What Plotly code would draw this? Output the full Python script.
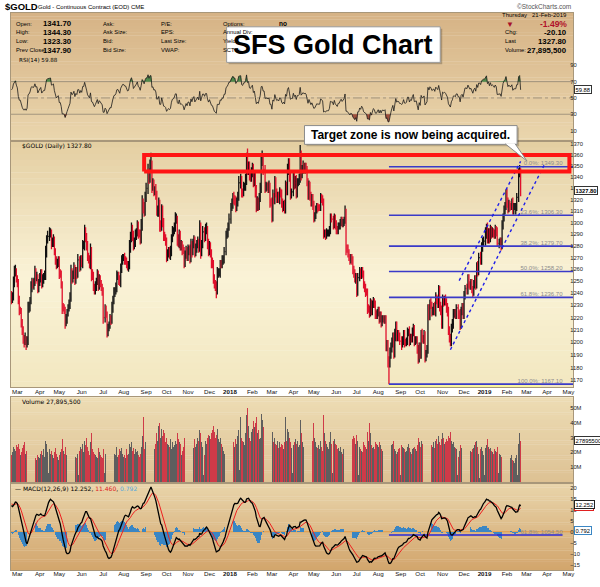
import numpy as np
import pandas as pd
import plotly.graph_objects as go

# ---------------- data (read / estimated from the reference) ----------------
# closes before the visible window, only used to warm up RSI / MACD
warmup_close = [1214, 1213, 1187, 1187, 1178, 1190, 1188, 1173,
                1170, 1177, 1170, 1170, 1175, 1172, 1162, 1159, 1159, 1142, 1130, 1137, 1139, 1133, 1131, 1130, 1133, 1133, 1139, 1141, 1158, 1152,
                1152, 1162, 1165, 1181, 1173, 1184, 1186, 1196, 1197, 1197, 1203, 1216, 1212, 1202, 1210, 1217, 1212, 1199, 1189, 1191, 1196, 1212,
                1209, 1221, 1220, 1233, 1236, 1241, 1235, 1235, 1226, 1229, 1233, 1242, 1239, 1239]

close_2017 = [1234, 1237, 1249, 1257, 1259, 1253,
              1249, 1234, 1226, 1226, 1216, 1209, 1203, 1201, 1203, 1199, 1202, 1227, 1229, 1234, 1245, 1249, 1247, 1249, 1258, 1253, 1254, 1244, 1249,
              1253, 1257, 1248, 1252, 1254, 1254, 1274, 1285, 1288, 1288, 1290, 1291, 1282, 1283, 1285, 1276, 1267, 1264, 1266, 1268,
              1256, 1256, 1248, 1228, 1228, 1227, 1216, 1219, 1224, 1228, 1231, 1236, 1258, 1253, 1255, 1261, 1251, 1258, 1256, 1268, 1268, 1262, 1268,
              1265, 1280, 1280, 1293, 1288, 1280, 1271, 1268, 1265, 1276, 1256, 1255, 1246, 1242, 1246, 1250, 1256, 1246, 1252, 1249, 1245, 1242,
              1220, 1220, 1227, 1223, 1209, 1212, 1214, 1219, 1218, 1228, 1234, 1241, 1242, 1245, 1254, 1255, 1251, 1249, 1260, 1268, 1270,
              1270, 1268, 1268, 1264, 1262, 1263, 1279, 1287, 1294, 1290, 1280, 1283, 1289, 1291, 1297, 1291, 1290, 1286, 1297, 1315, 1313, 1309, 1322,
              1330, 1330, 1344, 1339, 1350, 1351, 1332, 1334, 1328, 1329, 1325, 1310, 1311, 1316, 1297, 1297, 1311, 1301, 1288, 1287, 1284,
              1271, 1273, 1276, 1273, 1275, 1286, 1292, 1293, 1296, 1303, 1303, 1286, 1283, 1290, 1280, 1281, 1277, 1276, 1266, 1272, 1276, 1271,
              1277, 1277, 1269, 1281, 1275, 1282, 1285, 1274, 1278, 1281, 1283, 1278, 1296, 1275, 1281, 1292, 1292, 1287, 1294, 1294, 1282, 1275,
              1280, 1274, 1266, 1265, 1253, 1248, 1246, 1242, 1257, 1257, 1257, 1265, 1264, 1268, 1268, 1275, 1275, 1289, 1291, 1296, 1303]
close_2018 = [1303, 1313, 1316, 1322, 1320, 1320, 1314, 1318, 1322, 1335, 1335, 1337, 1327, 1326, 1332, 1332, 1338, 1357, 1347, 1350, 1341, 1340, 1345,
              1348, 1337, 1340, 1329, 1315, 1318, 1315, 1322, 1330, 1355, 1356, 1347, 1347, 1331, 1332, 1332, 1330, 1332, 1318, 1318,
              1305, 1323, 1320, 1336, 1327, 1321, 1323, 1320, 1327, 1326, 1317, 1313, 1316, 1312, 1332, 1328, 1347, 1353, 1341, 1325, 1327, 1327,
              1341, 1333, 1337, 1326, 1336, 1336, 1339, 1361, 1342, 1347, 1350, 1347, 1349, 1347, 1336, 1324, 1333, 1323, 1318, 1322, 1315,
              1305, 1306, 1311, 1314, 1313, 1313, 1313, 1322, 1320, 1318, 1290, 1291, 1289, 1291, 1291, 1291, 1294, 1304, 1303, 1303, 1298, 1304, 1298,
              1294, 1293, 1297, 1297, 1300, 1302, 1299, 1300, 1302, 1308, 1278, 1278, 1274, 1270, 1268, 1270, 1268, 1260, 1257, 1252, 1254,
              1242, 1253, 1253, 1258, 1255, 1259, 1256, 1247, 1245, 1241, 1241, 1227, 1227, 1224, 1232, 1225, 1231, 1233, 1231, 1223, 1222, 1224,
              1226, 1219, 1222, 1216, 1219, 1219, 1218, 1219, 1198, 1199, 1185, 1184, 1191, 1195, 1200, 1204, 1191, 1205, 1212, 1204, 1206, 1205, 1201,
              1201, 1199, 1201, 1206, 1200, 1200, 1201, 1208, 1208, 1201, 1204, 1203, 1208, 1211, 1201, 1202, 1202, 1195, 1187, 1196,
              1191, 1207, 1203, 1203, 1206, 1189, 1191, 1194, 1227, 1222, 1232, 1230, 1225, 1226, 1229, 1225, 1236, 1234, 1232, 1243, 1230, 1226, 1215,
              1235, 1233, 1235, 1233, 1228, 1225, 1210, 1204, 1201, 1211, 1215, 1223, 1224, 1222, 1228, 1228, 1223, 1223, 1214, 1226, 1228, 1223,
              1238, 1244, 1244, 1243, 1252, 1247, 1246, 1248, 1243, 1241, 1248, 1251, 1247, 1262, 1258, 1270, 1270, 1268, 1279, 1283, 1284]
close_2019 = [1284, 1291, 1295, 1286, 1291, 1286, 1294, 1290, 1292, 1291, 1289, 1294, 1292, 1282, 1282, 1283, 1283, 1280, 1298, 1304, 1311, 1315, 1325,
              1318, 1312, 1316, 1314, 1314, 1318, 1311, 1314, 1314, 1314, 1322, 1322, 1344, 1348, 1328]

up_wick_2017 = [3, 4, 5, 6, 5, 2,
                2, 3, 4, 3, 2, 3, 4, 3, 5, 2, 3, 6, 4, 3, 5, 4, 3, 4, 5, 3, 4, 2, 3,
                4, 3, 3, 4, 3, 5, 6, 4, 5, 0, 6, 4, 3, 4, 5, 3, 2, 4, 3, 3,
                3, 4, 3, 2, 4, 3, 2, 4, 3, 3, 4, 5, 6, 3, 4, 5, 3, 4, 4, 5, 0, 3, 4,
                4, 5, 4, 5, 3, 3, 4, 3, 4, 6, 3, 4, 3, 2, 4, 3, 4, 3, 4, 3, 2, 3,
                3, 0, 4, 3, 2, 3, 3, 4, 3, 5, 4, 4, 3, 4, 5, 3, 3, 4, 5, 4, 3,
                3, 4, 3, 2, 3, 4, 6, 5, 6, 4, 3, 4, 5, 4, 5, 4, 3, 4, 6, 9, 6, 5, 5,
                5, 0, 8, 4, 6, 11, 4, 5, 4, 3, 5, 3, 4, 6, 4, 5, 5, 4, 3, 4, 3,
                3, 4, 3, 3, 5, 4, 5, 3, 4, 6, 5, 3, 4, 4, 3, 4, 3, 4, 3, 4, 4, 3,
                4, 3, 4, 5, 3, 4, 4, 3, 4, 4, 5, 3, 6, 4, 4, 5, 0, 4, 5, 6, 3, 4,
                4, 3, 3, 4, 3, 3, 3, 4, 5, 4, 4, 3, 3, 4, 4, 4, 0, 4, 4, 4, 5]
up_wick_2018 = [0, 4, 5, 4, 5, 4, 3, 4, 5, 6, 0, 6, 4, 3, 4, 3, 5, 5, 9, 4, 4, 3, 4,
                5, 4, 4, 5, 4, 5, 4, 4, 5, 5, 8, 4, 0, 4, 4, 3, 4, 5, 3, 3,
                4, 6, 3, 5, 4, 3, 4, 4, 4, 3, 3, 4, 3, 4, 5, 4, 5, 4, 4, 3, 3, 0,
                4, 3, 4, 5, 3, 3, 4, 8, 3, 4, 5, 3, 4, 4, 3, 3, 4, 3, 4, 3, 3,
                4, 3, 4, 3, 3, 3, 3, 4, 3, 4, 3, 3, 3, 4, 3, 3, 3, 4, 4, 0, 3, 4, 3,
                4, 3, 3, 3, 3, 3, 3, 3, 3, 7, 4, 3, 3, 3, 3, 3, 3, 3, 3, 3, 3,
                3, 4, 0, 4, 3, 3, 3, 3, 3, 3, 3, 3, 4, 3, 4, 3, 3, 4, 3, 3, 3, 3,
                3, 3, 3, 3, 3, 3, 3, 3, 3, 3, 3, 4, 5, 5, 4, 4, 4, 6, 5, 5, 4, 4, 3,
                0, 4, 4, 4, 4, 3, 3, 4, 3, 5, 3, 3, 4, 4, 3, 3, 3, 3, 3, 4,
                4, 3, 4, 3, 4, 3, 3, 4, 4, 4, 3, 4, 3, 3, 3, 4, 5, 3, 4, 4, 3, 3, 4,
                4, 3, 3, 4, 3, 4, 4, 3, 3, 4, 4, 4, 3, 3, 3, 0, 3, 3, 4, 3, 4, 4,
                4, 3, 0, 4, 4, 4, 3, 4, 4, 3, 3, 4, 4, 4, 5, 4, 0, 5, 4, 4, 4]
up_wick_2019 = [0, 5, 4, 5, 4, 4, 4, 3, 4, 3, 3, 4, 3, 4, 0, 3, 4, 4, 4, 4, 4, 3, 4,
                5, 4, 4, 3, 3, 3, 4, 3, 3, 3, 4, 0, 4, 3, 0]

down_wick_2017 = [3, 2, 3, 4, 3, 4,
                  4, 3, 4, 3, 4, 3, 4, 5, 3, 5, 3, 4, 3, 4, 3, 4, 3, 4, 3, 5, 3, 4, 3,
                  3, 4, 4, 3, 4, 3, 3, 4, 3, 0, 4, 3, 5, 3, 4, 4, 3, 4, 3, 4,
                  4, 3, 4, 5, 3, 4, 5, 3, 4, 3, 3, 4, 3, 5, 4, 3, 4, 3, 4, 3, 0, 4, 3,
                  3, 4, 3, 4, 5, 4, 4, 3, 4, 5, 6, 4, 4, 3, 3, 4, 3, 4, 3, 4, 3, 4,
                  5, 0, 4, 3, 5, 4, 3, 3, 4, 3, 4, 3, 4, 3, 4, 3, 4, 3, 4, 3, 4,
                  3, 4, 4, 3, 3, 4, 3, 5, 4, 6, 4, 3, 4, 4, 3, 5, 3, 5, 4, 4, 5, 4, 3,
                  4, 0, 5, 5, 4, 4, 6, 4, 5, 4, 5, 4, 5, 6, 5, 5, 4, 5, 4, 3, 4,
                  5, 4, 3, 4, 5, 4, 3, 4, 3, 4, 4, 6, 4, 5, 4, 4, 5, 3, 5, 4, 3, 4,
                  4, 5, 4, 3, 5, 3, 4, 4, 3, 4, 3, 4, 3, 6, 4, 3, 0, 4, 3, 4, 5, 4,
                  3, 4, 5, 4, 5, 4, 4, 6, 3, 4, 3, 4, 3, 3, 4, 3, 0, 3, 3, 4, 3]
down_wick_2018 = [0, 4, 3, 4, 4, 5, 5, 4, 4, 3, 0, 5, 5, 4, 3, 4, 4, 5, 5, 5, 4, 4, 4,
                  5, 6, 5, 7, 6, 5, 5, 4, 4, 4, 5, 5, 0, 5, 4, 4, 4, 4, 5, 4,
                  5, 4, 4, 4, 5, 4, 4, 3, 4, 4, 4, 4, 3, 4, 4, 4, 4, 5, 5, 5, 4, 0,
                  4, 4, 3, 5, 4, 4, 3, 4, 5, 3, 4, 3, 4, 3, 4, 4, 4, 4, 4, 4, 4,
                  5, 4, 3, 3, 4, 3, 3, 3, 3, 3, 4, 3, 4, 3, 3, 3, 3, 4, 3, 0, 4, 3, 4,
                  4, 3, 3, 3, 3, 3, 3, 3, 3, 3, 6, 4, 4, 3, 4, 3, 4, 4, 4, 3, 4,
                  5, 4, 0, 3, 3, 3, 3, 3, 4, 4, 3, 4, 3, 4, 3, 3, 3, 3, 3, 4, 3, 3,
                  3, 4, 3, 4, 3, 3, 3, 3, 5, 5, 5, 17, 4, 4, 3, 4, 4, 3, 4, 3, 3, 4, 3,
                  0, 5, 3, 3, 4, 3, 3, 3, 3, 4, 3, 3, 3, 3, 4, 3, 3, 4, 4, 3,
                  4, 4, 3, 4, 4, 5, 4, 3, 3, 4, 4, 3, 4, 3, 4, 3, 4, 3, 4, 4, 5, 4, 4,
                  4, 4, 3, 3, 4, 4, 4, 4, 4, 4, 3, 4, 3, 3, 3, 0, 4, 4, 4, 3, 4, 4,
                  4, 3, 0, 4, 4, 3, 3, 3, 3, 4, 3, 4, 4, 3, 4, 3, 0, 4, 4, 4, 4]
down_wick_2019 = [0, 4, 5, 4, 4, 4, 3, 4, 3, 4, 3, 3, 4, 3, 0, 4, 3, 4, 3, 4, 3, 4, 4,
                  5, 4, 3, 4, 3, 3, 4, 4, 3, 7, 4, 0, 4, 4, 5]

# volume in millions of contracts
volume_2017 = [18, 20, 24, 22, 21, 25,
               24, 26, 22, 18, 20, 23, 25, 27, 19, 21, 30, 34, 22, 19, 24, 21, 18, 17, 20, 16, 15, 18, 17,
               16, 19, 21, 18, 22, 17, 28, 26, 20, 6, 22, 19, 21, 18, 16, 20, 23, 19, 17, 15,
               18, 20, 22, 29, 21, 19, 24, 18, 17, 16, 15, 19, 30, 25, 22, 18, 20, 17, 16, 19, 5, 21, 24,
               22, 26, 20, 28, 25, 30, 24, 21, 18, 27, 33, 22, 20, 19, 18, 17, 16, 23, 20, 18, 17, 16,
               22, 6, 19, 18, 28, 20, 17, 19, 18, 23, 17, 21, 19, 18, 24, 17, 18, 22, 21, 23, 19,
               17, 18, 16, 22, 18, 19, 26, 24, 27, 21, 23, 19, 22, 20, 21, 18, 17, 19, 24, 31, 44, 22, 27,
               34, 8, 54, 30, 35, 40, 36, 25, 27, 22, 26, 33, 28, 38, 40, 30, 36, 31, 35, 33, 27,
               30, 26, 25, 24, 29, 22, 27, 24, 25, 28, 26, 33, 29, 27, 26, 18, 21, 24, 30, 27, 22, 25,
               26, 24, 28, 27, 22, 25, 23, 29, 24, 26, 30, 28, 35, 33, 27, 24, 5, 18, 28, 26, 30, 32,
               31, 29, 33, 35, 38, 34, 30, 32, 36, 29, 27, 30, 26, 24, 21, 19, 4, 18, 20, 22, 24]
volume_2018 = [6, 22, 26, 30, 27, 24, 29, 26, 31, 35, 8, 44, 30, 28, 27, 25, 33, 45, 50, 38, 30, 28, 34,
               36, 41, 37, 40, 44, 33, 35, 29, 30, 46, 42, 37, 8, 36, 31, 27, 26, 29, 33, 35,
               38, 34, 27, 30, 26, 25, 28, 23, 27, 24, 26, 25, 22, 27, 44, 28, 36, 34, 30, 27, 23, 6,
               25, 27, 29, 26, 28, 24, 25, 42, 33, 27, 24, 22, 26, 28, 30, 32, 27, 29, 25, 24, 28,
               40, 30, 27, 24, 23, 25, 22, 28, 24, 21, 45, 33, 28, 26, 24, 22, 27, 34, 26, 6, 28, 29, 26,
               25, 22, 23, 21, 24, 20, 19, 22, 30, 36, 49, 30, 28, 27, 25, 24, 23, 29, 31, 30, 26,
               32, 28, 5, 24, 22, 21, 20, 27, 25, 24, 22, 34, 28, 40, 33, 25, 23, 24, 22, 27, 26, 25,
               24, 27, 25, 22, 21, 20, 23, 24, 34, 31, 38, 44, 30, 24, 25, 26, 28, 22, 21, 19, 20, 22, 23,
               5, 25, 24, 23, 22, 20, 21, 24, 26, 23, 20, 19, 22, 23, 24, 22, 21, 25, 30, 27,
               24, 28, 26, 25, 27, 24, 22, 23, 51, 34, 30, 26, 25, 24, 27, 23, 28, 29, 26, 31, 27, 25, 29,
               33, 30, 26, 27, 29, 28, 31, 30, 34, 28, 26, 27, 24, 23, 22, 5, 17, 21, 25, 23, 26, 22,
               27, 29, 14, 26, 28, 23, 22, 21, 20, 22, 23, 25, 27, 28, 24, 19, 3, 22, 24, 21, 18]
volume_2019 = [5, 23, 25, 29, 24, 22, 23, 21, 20, 19, 22, 21, 20, 24, 6, 19, 18, 17, 26, 21, 24, 28, 30,
               27, 20, 17, 19, 16, 18, 15, 14, 13, 16, 18, 5, 26, 33, 27.9]

month_names = ["Jan", "Feb", "Mar", "Apr", "May", "Jun", "Jul", "Aug", "Sep", "Oct", "Nov", "Dec"]
price_ticks = [1170, 1180, 1190, 1200, 1210, 1220, 1230, 1240, 1250, 1260, 1270, 1280, 1290, 1300,
               1310, 1320, 1330, 1340, 1350, 1360, 1370]
rsi_ticks = [10, 30, 50, 70, 90]
volume_ticks = [10, 20, 30, 40, 50]
volume_tick_text = ["10M", "20M", "30M", "40M", "50M"]
macd_ticks = [-15, -10, -5, 0, 5, 10, 15, 20]

fib_levels = [1349.30, 1306.30, 1279.70, 1258.20, 1236.70, 1167.10]
fib_labels = ["0.0%: 1349.30", "23.6%: 1306.30", "38.2%: 1279.70", "50.0%: 1258.20", "61.8%: 1236.70", "100.0%: 1167.10"]
fib_start_date = "2018-08-16"
fib_label_date = "2019-04-23"
zone_dates = ["2017-08-30", "2019-05-02"]
zone_prices = [1345.0, 1360.0]
channel_lower_dates = ["2018-11-13", "2019-03-27"]
channel_lower_prices = [1194.2, 1350.6]
channel_upper_dates = ["2018-11-26", "2019-02-21"]
channel_upper_prices = [1250.6, 1354.2]
macd_fib_value = -1.5
macd_fib_label = "61.8%: 1054.50"

# ---------------- series ----------------
close = np.array(close_2017 + close_2018 + close_2019, dtype=float)
up_wick = np.array(up_wick_2017 + up_wick_2018 + up_wick_2019, dtype=float)
down_wick = np.array(down_wick_2017 + down_wick_2018 + down_wick_2019, dtype=float)
volume = np.array(volume_2017 + volume_2018 + volume_2019, dtype=float)
n = len(close)
for nm, arr in [("up_wick", up_wick), ("down_wick", down_wick), ("volume", volume)]:
    if len(arr) != n:
        raise ValueError(f"{nm} has {len(arr)} values, expected {n}")

W = len(warmup_close)
axis_dates = pd.bdate_range("2017-02-21", periods=640)


def idx(d):
    return int(axis_dates.searchsorted(pd.Timestamp(d)))


x = np.arange(n)
opens = np.concatenate([[warmup_close[-1]], close[:-1]])
high = np.maximum(opens, close) + up_wick
low = np.minimum(opens, close) - down_wick
is_up = close >= opens

allc = np.array(warmup_close + list(close), dtype=float)
# RSI(14), Wilder
d = np.diff(allc)
gain = np.clip(d, 0, None)
loss = np.clip(-d, 0, None)
rsi_all = np.full(len(allc), np.nan)
ag, al = gain[:14].mean(), loss[:14].mean()
rsi_all[14] = 100 - 100 / (1 + ag / al)
for i in range(14, len(d)):
    ag = (ag * 13 + gain[i]) / 14
    al = (al * 13 + loss[i]) / 14
    rsi_all[i + 1] = 100 - 100 / (1 + ag / al)
rsi = rsi_all[W:]
# MACD(12,26,9)
s = pd.Series(allc)
macd_all = s.ewm(span=12, adjust=False).mean() - s.ewm(span=26, adjust=False).mean()
sig_all = macd_all.ewm(span=9, adjust=False).mean()
macd = macd_all.values[W:]
signal = sig_all.values[W:]
hist = macd - signal

# ---------------- geometry helpers (pixels -> paper) ----------------
L, R, T, B = 10, 573, 13, 577
def PX(px): return (px - L) / (R - L)
def PY(py): return (B - py) / (B - T)

X_RANGE = [-0.5, 575.7]
BORDER = "#a8977a"
FONT = "Liberation Sans, Arial, sans-serif"
VFONT = "DejaVu Sans, Verdana, sans-serif"

# month ticks
tickvals, ticktext = [], []
for i in range(1, 576):
    if axis_dates[i].month != axis_dates[i - 1].month:
        tickvals.append(i)
        dt = axis_dates[i]
        ticktext.append(f"<b>{dt.year}</b>" if dt.month == 1 else month_names[dt.month - 1])

fig = go.Figure()

# ---------- RSI panel ----------
fig.add_trace(go.Scatter(x=x, y=np.full(n, 70.0), mode="lines", line=dict(width=0), xaxis="x", yaxis="y", hoverinfo="skip", showlegend=False))
fig.add_trace(go.Scatter(x=x, y=np.maximum(rsi, 70), mode="lines", line=dict(width=0), fill="tonexty", fillcolor="#4f8a4a", xaxis="x", yaxis="y", hoverinfo="skip", showlegend=False))
fig.add_trace(go.Scatter(x=x, y=np.full(n, 30.0), mode="lines", line=dict(width=0), xaxis="x", yaxis="y", hoverinfo="skip", showlegend=False))
fig.add_trace(go.Scatter(x=x, y=np.minimum(rsi, 30), mode="lines", line=dict(width=0), fill="tonexty", fillcolor="#a0503c", xaxis="x", yaxis="y", hoverinfo="skip", showlegend=False))
fig.add_trace(go.Scatter(x=x, y=rsi, mode="lines", line=dict(color="#1a1a1a", width=0.8), xaxis="x", yaxis="y", hoverinfo="skip", showlegend=False))

# ---------- price panel ----------
fs, fe = idx(fib_start_date), X_RANGE[1]
fx, fy = [], []
for lv in fib_levels:
    fx += [fs, fe, None]
    fy += [lv, lv, None]
fig.add_trace(go.Scatter(x=fx, y=fy, mode="lines", line=dict(color="#3a3ac8", width=1.6), xaxis="x2", yaxis="y2", hoverinfo="skip", showlegend=False))
fl = idx(fib_label_date)
fig.add_trace(go.Scatter(x=[fl] * len(fib_levels), y=fib_levels, mode="text", text=fib_labels, textposition="top left",
                         textfont=dict(family=FONT, size=6, color="#8c8c8c"), xaxis="x2", yaxis="y2", hoverinfo="skip", showlegend=False))

fig.add_trace(go.Ohlc(x=x, open=opens, high=high, low=low, close=close, xaxis="x2", yaxis="y2",
                      increasing=dict(line=dict(color="#111111", width=1.3)),
                      decreasing=dict(line=dict(color="#e0102c", width=1.3)),
                      tickwidth=0.4, hoverinfo="skip", showlegend=False))

for dts, prs in [(channel_lower_dates, channel_lower_prices), (channel_upper_dates, channel_upper_prices)]:
    fig.add_trace(go.Scatter(x=[idx(v) for v in dts], y=prs, mode="lines", line=dict(color="#1f1fe8", width=1.4, dash="dot"),
                             xaxis="x2", yaxis="y2", hoverinfo="skip", showlegend=False))

zl, zr = idx(zone_dates[0]), idx(zone_dates[1])
fig.add_trace(go.Scatter(x=[zl, zr, zr, zl, zl], y=[zone_prices[0], zone_prices[0], zone_prices[1], zone_prices[1], zone_prices[0]],
                         mode="lines", line=dict(color="#ff1414", width=4), xaxis="x2", yaxis="y2", hoverinfo="skip", showlegend=False))

# ---------- volume panel ----------
fig.add_trace(go.Bar(x=x, y=volume, width=0.8, marker=dict(color=np.where(is_up, "#5e5e5e", "#cf3a48"), line=dict(width=0)),
                     xaxis="x3", yaxis="y3", hoverinfo="skip", showlegend=False))

# ---------- MACD panel ----------
fig.add_trace(go.Bar(x=x, y=hist, width=0.8, marker=dict(color="#3a86c4", line=dict(width=0)),
                     xaxis="x4", yaxis="y4", hoverinfo="skip", showlegend=False))
fig.add_trace(go.Scatter(x=[fs, fl], y=[macd_fib_value, macd_fib_value], mode="lines", line=dict(color="#2828d8", width=1.5),
                         xaxis="x4", yaxis="y4", hoverinfo="skip", showlegend=False))
fig.add_trace(go.Scatter(x=[fl], y=[macd_fib_value], mode="text", text=[macd_fib_label], textposition="top left",
                         textfont=dict(family=FONT, size=6, color="#8c8c8c"), xaxis="x4", yaxis="y4", hoverinfo="skip", showlegend=False))
fig.add_trace(go.Scatter(x=x, y=signal, mode="lines", line=dict(color="#ee2020", width=1), xaxis="x4", yaxis="y4", hoverinfo="skip", showlegend=False))
fig.add_trace(go.Scatter(x=x, y=macd, mode="lines", line=dict(color="#000000", width=1.3), xaxis="x4", yaxis="y4", hoverinfo="skip", showlegend=False))

# ---------- backgrounds ----------
def h2r(h):
    return tuple(int(h[i:i + 2], 16) for i in (1, 3, 5))


def gcol(stops, t):
    for (t0, c0), (t1, c1) in zip(stops[:-1], stops[1:]):
        if t0 <= t <= t1:
            f = (t - t0) / (t1 - t0)
            a, b = h2r(c0), h2r(c1)
            return "rgb(%d,%d,%d)" % tuple(round(a[k] + (b[k] - a[k]) * f) for k in range(3))
    return stops[-1][1]


shapes = []
panels = [(13, 143, [(0, "#d6b385"), (1, "#ead6ae")]),
          (143, 392, [(0, "#e4cea1"), (0.55, "#faf3d7"), (1, "#f2e7c0")]),
          (402, 489, [(0, "#eddcb4"), (1, "#ddc193")]),
          (489, 577, [(0, "#e9d5ab"), (1, "#d2a56c")])]
for ytop, ybot, stops in panels:
    N = 40
    h = (ybot - ytop) / N
    for j in range(N):
        y0 = ytop + j * h
        shapes.append(dict(type="rect", xref="paper", yref="paper", x0=0, x1=1, y0=PY(min(y0 + h + 0.4, ybot)), y1=PY(y0),
                           fillcolor=gcol(stops, (j + 0.5) / N), line=dict(width=0), layer="below"))

# yellow strip under the 100% retracement
shapes.append(dict(type="rect", xref="x2", yref="paper", x0=fs, x1=idx("2019-03-22"), y0=PY(392), y1=PY(389.5),
                   fillcolor="#f9f59e", line=dict(width=0), layer="below"))
# RSI reference lines
for lv, dash in [(70, "solid"), (30, "solid"), (50, "dashdot")]:
    shapes.append(dict(type="line", xref="paper", yref="y", x0=0, x1=1, y0=lv, y1=lv, line=dict(color="#8f8575", width=0.8, dash=dash), layer="below"))
# MACD zero line
shapes.append(dict(type="line", xref="paper", yref="y4", x0=0, x1=1, y0=0, y1=0, line=dict(color="#e39a45", width=1), layer="below"))

# title box and callout
shapes.append(dict(type="rect", xref="paper", yref="paper", x0=PX(228), x1=PX(442), y0=PY(65), y1=PY(29), fillcolor="rgba(0,0,0,0.22)", line=dict(width=0)))
shapes.append(dict(type="rect", xref="paper", yref="paper", x0=PX(226), x1=PX(440), y0=PY(63), y1=PY(27), fillcolor="#ffffff", line=dict(color="#9a9a9a", width=1)))
shapes.append(dict(type="rect", xref="paper", yref="paper", x0=PX(306), x1=PX(519), y0=PY(148), y1=PY(129), fillcolor="rgba(0,0,0,0.2)", line=dict(width=0)))
shapes.append(dict(type="rect", xref="paper", yref="paper", x0=PX(304), x1=PX(517), y0=PY(146), y1=PY(127), fillcolor="#ffffff", line=dict(color="#8a8a8a", width=1)))
shapes.append(dict(type="path", xref="paper", yref="paper",
                   path=f"M {PX(505)},{PY(145.4)} L {PX(527)},{PY(163)} L {PX(515)},{PY(145.4)}",
                   fillcolor="#ffffff", line=dict(color="#8a8a8a", width=1)))

# ---------- annotations ----------
ann = []


def A(px, py, text, size=6, color="#000", xa="left", family=FONT, **kw):
    ann.append(dict(x=PX(px), y=PY(py), xref="paper", yref="paper", text=text, showarrow=False, xanchor=xa, yanchor="middle",
                    font=dict(family=family, size=size, color=color), **kw))


A(2, 6, "<b>$GOLD</b>", 9.5)
A(35, 6.5, "Gold - Continuous Contract (EOD) CME", 6)
A(573, 6.5, "©StockCharts.com", 6.5, "#555", "right")

rows = [24, 32.7, 41.7, 50.5]
for y, lab, val in zip(rows, ["Open:", "High:", "Low:", "Prev Close:"], ["1341.70", "1344.30", "1323.30", "1347.90"]):
    A(13, y, lab, 5.8)
    A(73, y, f"<b>{val}</b>", 7.8, xa="right")
for y, lab in zip(rows, ["Ask:", "Ask Size:", "Bid:", "Bid Size:"]):
    A(100, y, lab, 5.8)
for y, lab in zip(rows, ["P/E:", "EPS:", "Last Size:", "VWAP:"]):
    A(158, y, lab, 5.8)
for y, lab in zip(rows, ["Options:", "Annual Div:", "Yield:", "SCTR:"]):
    A(220, y, lab, 5.8)
A(276, rows[0], "<b>no</b>", 6.5)

A(500, 15.5, "Thursday", 6)
A(569, 15.5, "21-Feb-2019", 6, xa="right")
A(510, 24.3, "▼", 8, "#a8102a", "center")
A(569, 24.3, "<b>-1.49%</b>", 8.5, "#b0102a", "right")
for y, lab, val in zip(rows[1:], ["Chg:", "Last", "Volume:"], ["-20.10", "1327.80", "27,895,500"]):
    A(503, y, lab, 5.8)
    A(569, y, f"<b>{val}</b>", 7.8, xa="right")

# boxes
A(333, 45.5, "<b>SFS Gold Chart</b>", 27, xa="center")
A(410.5, 136.8, "<b>Target zone is now being acquired.</b>", 12, xa="center")

# panel labels
A(16, 60.3, "RSI(14) 59.88", 5.6, family=VFONT)
A(19, 147.3, "$GOLD (Daily) 1327.80", 6, family=VFONT)
A(19, 406, "Volume 27,895,500", 6, family=VFONT)
A(12, 494, "— MACD(12,26,9) 12.252, <span style='color:#e02020'>11.460</span>, <span style='color:#56a8dc'>0.792</span>", 6, family=VFONT)

# current value boxes on the right edge
def VB(yref, yval, text, border, bold=False):
    ann.append(dict(x=PX(574), y=yval, xref="paper", yref=yref, text=(f"<b>{text}</b>" if bold else text), showarrow=False,
                    xanchor="left", yanchor="middle", font=dict(family=FONT, size=5.8, color="#000"),
                    bgcolor="#ffffff", bordercolor=border, borderwidth=1, borderpad=0.5))


VB("y", float(59.88), "59.88", "#333333")
VB("y2", float(np.log10(1327.80)), "1327.80", "#333333", bold=True)
VB("y3", 27.8955, "27895500", "#333333")
VB("y4", 11.460, "11.460", "#e02020")
VB("y4", 12.252, "12.252", "#222222")
VB("y4", 0.792, "0.792", "#3a86c4")

# ---------- layout ----------
def dom(ytop, ybot):
    return [PY(ybot), PY(ytop)]


xcommon = dict(range=X_RANGE, showgrid=False, zeroline=False, showline=True, mirror=True, linecolor=BORDER, linewidth=1,
               ticks="", fixedrange=True, tickfont=dict(family=FONT, size=6.2, color="#111"), tickvals=tickvals, ticktext=ticktext,
               ticklabelstandoff=-2)
ycommon = dict(side="right", showgrid=False, zeroline=False, showline=True, mirror=True, linecolor=BORDER, linewidth=1,
               ticks="", fixedrange=True, tickfont=dict(family=FONT, size=5.8, color="#222"), ticklabelstandoff=-5)

fig.update_layout(
    width=600, height=587, margin=dict(l=L, r=600 - R, t=T, b=587 - B),
    paper_bgcolor="#ffffff", plot_bgcolor="#ffffff", showlegend=False, hovermode=False, bargap=0,
    xaxis=dict(**xcommon, anchor="y", showticklabels=False),
    xaxis2=dict(**xcommon, anchor="y2", matches="x", showticklabels=True, rangeslider=dict(visible=False)),
    xaxis3=dict(**xcommon, anchor="y3", matches="x", showticklabels=False),
    xaxis4=dict(**xcommon, anchor="y4", matches="x", showticklabels=True),
    yaxis=dict(**ycommon, domain=dom(13, 143), anchor="x", range=[-3.3, 154.2], tickvals=rsi_ticks),
    yaxis2=dict(**ycommon, domain=dom(143, 392), anchor="x2", type="log", range=[np.log10(1164.6), np.log10(1372.4)],
                tickvals=price_ticks, ticktext=[str(v) for v in price_ticks]),
    yaxis3=dict(**ycommon, domain=dom(402, 489), anchor="x3", range=[-0.67, 57.3], tickvals=volume_ticks, ticktext=volume_tick_text),
    yaxis4=dict(**ycommon, domain=dom(489, 577), anchor="x4", range=[-17.43, 22.2], tickvals=macd_ticks),
    shapes=shapes, annotations=ann,
)

fig.write_html("out.html", config={"displayModeBar": False, "staticPlot": True},
               post_script="document.body.style.margin='0';document.body.style.overflow='hidden';")
